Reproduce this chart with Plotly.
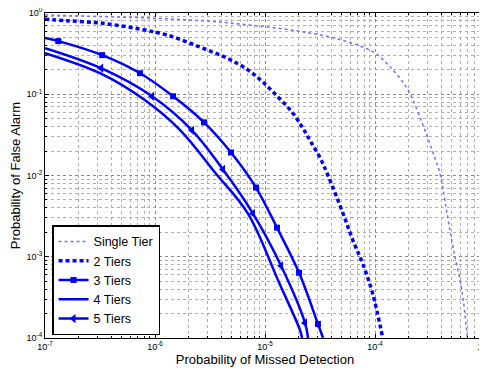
import plotly.graph_objects as go

# ---- data (log-log) ----
single_x = [1.0e-7, 3.16e-7, 9.0e-7, 2.57e-6, 5.93e-6, 2.0e-5, 3.89e-5, 6.92e-5, 1.0e-4,
            1.38e-4, 1.95e-4, 2.69e-4, 3.31e-4, 3.89e-4, 4.52e-4, 5.13e-4, 6.17e-4, 6.92e-4]
single_y = [0.944, 0.906, 0.867, 0.807, 0.731, 0.600, 0.506, 0.403, 0.321,
            0.215, 0.119, 0.0439, 0.0204, 0.0106, 0.00339, 0.00129, 3.8e-4, 1.0e-4]

two_x = [1.0e-7, 1.58e-7, 3.16e-7, 7.31e-7, 1.29e-6, 2.57e-6, 4.52e-6, 7.0e-6, 9.6e-6, 1.32e-5,
         1.76e-5, 2.19e-5, 2.57e-5, 3.16e-5, 3.74e-5, 5.13e-5, 6.31e-5, 7.76e-5, 9.55e-5, 1.175e-4]
two_y = [0.836, 0.804, 0.753, 0.634, 0.535, 0.380, 0.278, 0.1995, 0.1406, 0.0918,
         0.0603, 0.0389, 0.0269, 0.0166, 0.010, 0.00339, 0.00158, 8.13e-4, 3.47e-4, 1.0e-4]

three_x = [1.0e-7, 1.32e-7, 3.31e-7, 7.31e-7, 1.46e-6, 2.79e-6, 4.91e-6, 8.28e-6,
           1.285e-5, 2.04e-5, 3.03e-5, 3.37e-5]
three_y = [0.491, 0.451, 0.303, 0.1815, 0.0944, 0.0451, 0.0192, 0.00711,
           0.00228, 6.34e-4, 1.49e-4, 1.0e-4]
three_marker_idx = [1, 2, 3, 4, 5, 6, 7, 8, 9, 10]

four_x = [1.0e-7, 3.16e-7, 8.13e-7, 1.70e-6, 3.51e-6, 7.0e-6, 1.32e-5, 2.09e-5, 2.17e-5]
four_y = [0.321, 0.1815, 0.0843, 0.036, 0.0109, 0.0034, 5.06e-4, 1.23e-4, 1.0e-4]

five_x = [1.0e-7, 3.24e-7, 9.4e-7, 2.17e-6, 4.15e-6, 7.78e-6, 1.40e-5, 2.31e-5, 2.46e-5]
five_y = [0.370, 0.2094, 0.0944, 0.036, 0.01186, 0.0034, 7.74e-4, 1.53e-4, 1.0e-4]
five_marker_idx = [1, 2, 3, 4, 5, 6, 7]

x_tickvals = [1e-7, 1e-6, 1e-5, 1e-4, 1e-3]
x_ticktext = ["10<sup>-7</sup>", "10<sup>-6</sup>", "10<sup>-5</sup>", "10<sup>-4</sup>", "10<sup>-3</sup>"]
y_tickvals = [1e-4, 1e-3, 1e-2, 1e-1, 1e0]
y_ticktext = ["10<sup>-4</sup>", "10<sup>-3</sup>", "10<sup>-2</sup>", "10<sup>-1</sup>", "10<sup>0</sup>"]

x_minor = [m * 10.0 ** e for e in range(-7, -3) for m in range(2, 10)]
y_minor = [m * 10.0 ** e for e in range(-4, 0) for m in range(2, 10)]

BLUE = "#0000ff"
LIGHT = "#7070ff"
FONT = "Liberation Sans, Arial"

fig = go.Figure()

# curves
fig.add_trace(go.Scatter(x=single_x, y=single_y, mode="lines", line=dict(color=LIGHT, width=1.5, dash="dot", shape="spline"),
                         showlegend=False))
fig.add_trace(go.Scatter(x=two_x, y=two_y, mode="lines", line=dict(color=BLUE, width=3.5, dash="4px,3px", shape="spline"),
                         showlegend=False))
fig.add_trace(go.Scatter(x=three_x, y=three_y, mode="lines", line=dict(color=BLUE, width=2.5, shape="spline"),
                         showlegend=False))
fig.add_trace(go.Scatter(x=four_x, y=four_y, mode="lines", line=dict(color=BLUE, width=2.5, shape="spline"),
                         showlegend=False))
fig.add_trace(go.Scatter(x=five_x, y=five_y, mode="lines", line=dict(color=BLUE, width=2.5, shape="spline"),
                         showlegend=False))
# markers
fig.add_trace(go.Scatter(x=[three_x[i] for i in three_marker_idx], y=[three_y[i] for i in three_marker_idx],
                         mode="markers", marker=dict(symbol="square", size=6, color=BLUE), showlegend=False))
fig.add_trace(go.Scatter(x=[five_x[i] for i in five_marker_idx], y=[five_y[i] for i in five_marker_idx],
                         mode="markers", marker=dict(symbol="triangle-left", size=8, color=BLUE), showlegend=False))

# legend entries
fig.add_trace(go.Scatter(x=[None], y=[None], mode="lines", name="Single Tier",
                         line=dict(color=LIGHT, width=1.5, dash="dot")))
fig.add_trace(go.Scatter(x=[None], y=[None], mode="lines", name="2 Tiers",
                         line=dict(color=BLUE, width=3.5, dash="4px,3px")))
fig.add_trace(go.Scatter(x=[None], y=[None], mode="lines+markers", name="3 Tiers",
                         line=dict(color=BLUE, width=2.5), marker=dict(symbol="square", size=6, color=BLUE)))
fig.add_trace(go.Scatter(x=[None], y=[None], mode="lines", name="4 Tiers",
                         line=dict(color=BLUE, width=2.5)))
fig.add_trace(go.Scatter(x=[None], y=[None], mode="lines+markers", name="5 Tiers",
                         line=dict(color=BLUE, width=2.5), marker=dict(symbol="triangle-left", size=8, color=BLUE)))

axis_common = dict(
    type="log", showline=True, linecolor="black", linewidth=1, mirror="allticks",
    ticks="inside", ticklen=4, tickcolor="black",
    showgrid=True, gridcolor="#8a8a8a", griddash="dot", gridwidth=1,
    zeroline=False, tickfont=dict(family=FONT, size=9, color="black"),
    automargin=False, ticklabeloverflow="allow",
)

fig.update_xaxes(**axis_common, range=[-7, -3], tickvals=x_tickvals, ticktext=x_ticktext,
                 minor=dict(tickvals=x_minor, ticks="inside", ticklen=2, tickcolor="black", showgrid=True,
                            gridcolor="#b0b0b0", griddash="dot", gridwidth=1),
                 title=dict(text="Probability of Missed Detection", standoff=2,
                            font=dict(family=FONT, size=13, color="black")))
fig.update_yaxes(**axis_common, range=[-4, 0], tickvals=y_tickvals, ticktext=y_ticktext,
                 minor=dict(tickvals=y_minor, ticks="inside", ticklen=2, tickcolor="black", showgrid=True,
                            gridcolor="#b0b0b0", griddash="dot", gridwidth=1),
                 title=dict(text="Probability of False Alarm", standoff=5,
                            font=dict(family=FONT, size=13, color="black")))

# the page adds an 8px body margin, so the figure is sized to fit the 487x370 window
fig.update_layout(
    width=479, height=362,
    margin=dict(l=37, r=2, t=5, b=32),
    plot_bgcolor="white", paper_bgcolor="white",
    font=dict(family=FONT, color="black"),
    legend=dict(x=0.016, y=0.008, xanchor="left", yanchor="bottom",
                bgcolor="white", bordercolor="black", borderwidth=1.5,
                font=dict(family=FONT, size=12.5, color="black"),
                tracegroupgap=0, itemwidth=30),
)

fig.write_html("out.html")
